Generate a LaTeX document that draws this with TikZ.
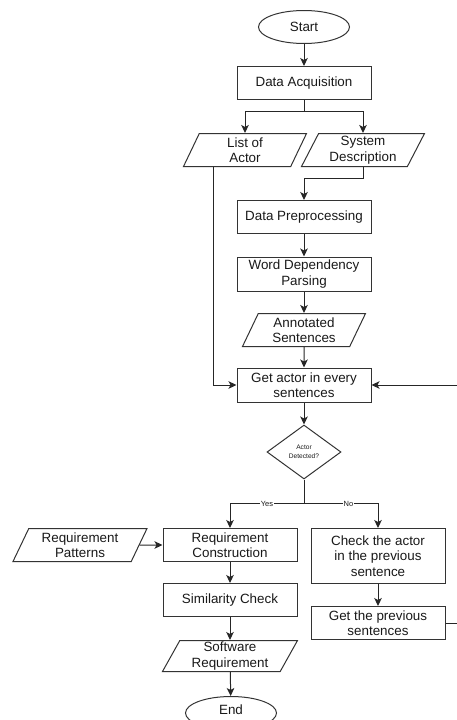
\documentclass[tikz,border=0pt]{standalone}
\usepackage{fontspec}
\setmainfont{Liberation Sans}
\usetikzlibrary{shapes.geometric, arrows.meta}

\begin{document}
\begin{tikzpicture}[
    x=1pt, y=-1pt,
    >={Stealth[length=8pt, width=7.5pt, inset=2pt]},
    every node/.style={font=\fontsize{13.4}{15.5}\selectfont, text=black!90, align=center},
    process/.style={rectangle, draw=black!80, line width=1pt, minimum width=134pt, minimum height=33pt, inner sep=2pt},
    data/.style={trapezium, trapezium left angle=60, trapezium right angle=120, trapezium stretches body, draw=black!80, line width=1pt, minimum width=123pt, minimum height=33pt, inner sep=1pt},
    terminal/.style={ellipse, draw=black!80, line width=1pt, minimum width=91pt, minimum height=33pt, inner sep=0pt},
    decision/.style={diamond, aspect=1.37, draw=black!80, line width=1pt, minimum width=74pt, minimum height=54pt, inner sep=0pt, font=\fontsize{6.6}{8.5}\selectfont},
    line/.style={draw=black!85, line width=1pt},
    branch label/.style={fill=white, inner sep=1pt, font=\fontsize{7.5}{9}\selectfont}
]
    \useasboundingbox (0,0) rectangle (456,720);

    % --- main column ---
    \node[terminal] (start) at (304,27) {Start};
    \node[process] (acq) at (304,83) {Data Acquisition};
    \node[data] (actors) at (245,150) {List of\\Actor};
    \node[data] (sysdesc) at (363,150) {System\\Description};
    \node[process] (prep) at (304,217) {Data Preprocessing};
    \node[process, minimum height=34pt] (parse) at (304,274) {Word Dependency\\Parsing};
    \node[data] (annot) at (304,330) {Annotated\\Sentences};
    \node[process, minimum height=34pt] (getactor) at (304,385) {Get actor in every\\sentences};
    \node[decision] (detect) at (304,452) {Actor\\Detected?};

    % --- Yes branch ---
    \node[process] (reqcon) at (230,545) {Requirement\\Construction};
    \node[data, minimum width=134pt] (reqpat) at (80,545) {Requirement\\Patterns};
    \node[process] (simcheck) at (230,600) {Similarity Check};
    \node[data, minimum width=135pt, minimum height=31pt] (softreq) at (230,656) {Software\\Requirement};
    \node[terminal] (finish) at (231,713) {};
    \node at (231,710) {End};

    % --- No branch ---
    \node[process, minimum height=55pt] (checkprev) at (378,556) {Check the actor\\in the previous\\sentence};
    \node[process] (getprev) at (378,623) {Get the previous\\sentences};
    \coordinate (loop) at (462,385);

    % connectors
    \draw[line, ->] (start) -- (acq);
    \draw[line, ->] (acq.south) -- ++(0,11) -| (actors);
    \draw[line, ->] (acq.south) -- ++(0,11) -| (sysdesc);
    \draw[line, ->] ([xshift=31pt]actors.bottom left corner) |- (getactor.west);
    \draw[line, ->] (sysdesc.south) -- ++(0,11) -| (prep);
    \draw[line, ->] (prep) -- (parse);
    \draw[line, ->] (parse) -- (annot);
    \draw[line, ->] (annot) -- (getactor);
    \draw[line, ->] (getactor) -- (detect);

    \draw[line] (detect.south) -- ++(0,24) coordinate (split);
    \draw[line, ->] (split) -- node[branch label, pos=0.5] {Yes} (split -| reqcon) -- (reqcon);
    \draw[line, ->] (split) -- node[branch label, pos=0.6] {No} (split -| checkprev) -- (checkprev);

    \draw[line, ->] (reqpat) -- (reqcon);
    \draw[line, ->] (reqcon) -- (simcheck);
    \draw[line, ->] (simcheck) -- (softreq);
    \draw[line, ->] (softreq) -- (finish);

    \draw[line, ->] (checkprev) -- (getprev);
    \draw[line, ->] (getprev.east) -| (loop) -- (getactor.east);

\end{tikzpicture}
\end{document}
